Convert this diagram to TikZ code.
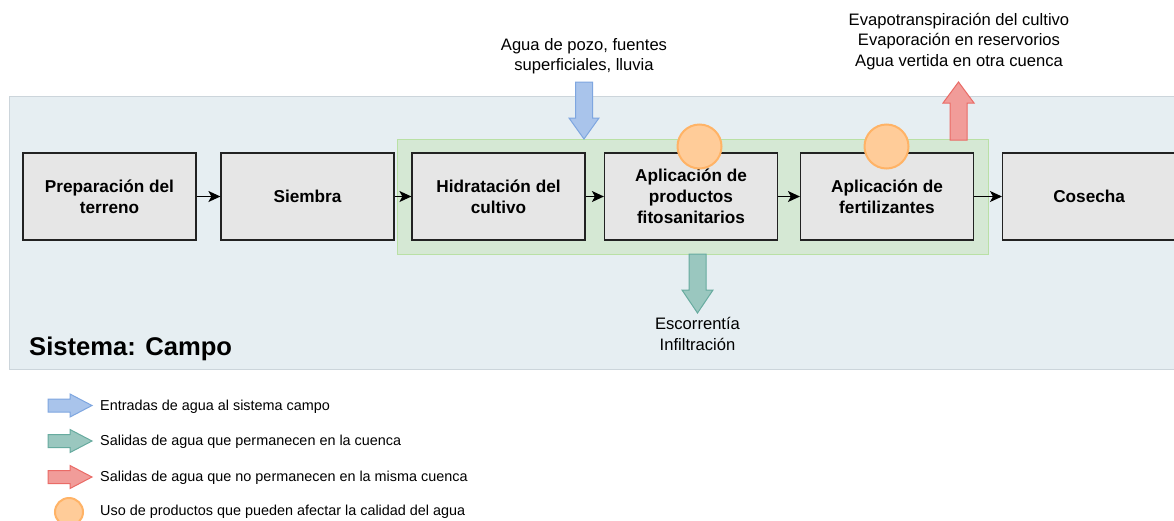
\documentclass[tikz,border=0pt]{standalone}
\usepackage{fontspec}
\setmainfont{Liberation Sans}
\usetikzlibrary{arrows.meta}
\definecolor{sysfill}{HTML}{E6EEF2}
\definecolor{sysdraw}{HTML}{CCD5DB}
\definecolor{grfill}{HTML}{D5E8D4}
\definecolor{grdraw}{HTML}{B9E0A5}
\definecolor{boxfill}{HTML}{E6E6E6}
\definecolor{boxdraw}{HTML}{222222}
\definecolor{orfill}{HTML}{FFCC99}
\definecolor{ordraw}{HTML}{FFB366}
\definecolor{bafill}{HTML}{A9C4EB}
\definecolor{badraw}{HTML}{7EA6E0}
\definecolor{gafill}{HTML}{9AC7BF}
\definecolor{gadraw}{HTML}{67AB9F}
\definecolor{rafill}{HTML}{F19C99}
\definecolor{radraw}{HTML}{EA6B66}
\tikzset{
  stepbox/.style={draw=boxdraw, fill=boxfill, line width=1.2pt, minimum width=173pt, minimum height=87pt, inner sep=0pt, align=center, font=\fontsize{17.2}{21}\selectfont\bfseries},
  flow/.style={-{Stealth[length=12pt,width=11pt,inset=3pt]}, line width=1.2pt, black},
  usecirc/.style={circle, draw=ordraw, fill=orfill, line width=2pt, minimum size=44pt, inner sep=0pt},
  lbl/.style={align=center, font=\fontsize{16.6}{20.5}\selectfont},
  leg/.style={anchor=west, font=\fontsize{14.4}{17}\selectfont, inner sep=0pt},
  blue arrow/.style={draw=badraw, fill=bafill, line width=1pt},
  green arrow/.style={draw=gadraw, fill=gafill, line width=1pt},
  red arrow/.style={draw=radraw, fill=rafill, line width=1pt},
}
\begin{document}
\begin{tikzpicture}[x=1pt,y=-1pt]
\useasboundingbox (0,0) rectangle (1174,520);
\fill[white] (0,0) rectangle (1174,520);
% system
\draw[draw=sysdraw, fill=sysfill, line width=1pt] (9,96) rectangle (1180,369);
\node[anchor=west, inner sep=0pt, font=\fontsize{25.6}{30}\selectfont\bfseries] (sys) at (29,349) {Sistema: Campo};
% green area
\draw[draw=grdraw, fill=grfill, line width=1pt] (397,139) rectangle (988,254);
% boxes
\node[stepbox] (b1) at (109.5,196.5) {Preparación del\\terreno};
\node[stepbox] (b2) at (307.5,196.5) {Siembra};
\node[stepbox] (b3) at (498.5,196.5) {Hidratación del\\cultivo};
\node[stepbox] (b4) at (691,196.5) {Aplicación de\\productos\\fitosanitarios};
\node[stepbox] (b5) at (887,196.5) {Aplicación de\\fertilizantes};
\node[stepbox, anchor=west] (b6) at (1002,196.5) {Cosecha};
\draw[flow] (b1) -- (b2);
\draw[flow] (b2) -- (b3);
\draw[flow] (b3) -- (b4);
\draw[flow] (b4) -- (b5);
\draw[flow] (b5) -- (b6);
% circles
\node[usecirc] (c1) at (699.5,146.5) {};
\node[usecirc] (c2) at (886.5,146.5) {};
% blue input arrow
\draw[blue arrow] (575.5,82) -- (592.5,82) -- (592.5,118) -- (599,118) -- (584,139) -- (569,118) -- (575.5,118) -- cycle;
\node[lbl] (inp) at (584,56) {Agua de pozo, fuentes\\superficiales, lluvia};
% red output arrow
\draw[red arrow] (950,140) -- (967,140) -- (967,103) -- (974,103) -- (958.5,82) -- (943,103) -- (950,103) -- cycle;
\node[lbl] (outr) at (959,41.5) {Evapotranspiración del cultivo\\Evaporación en reservorios\\Agua vertida en otra cuenca};
% green output arrow
\draw[green arrow] (689,254) -- (706,254) -- (706,290) -- (713,290) -- (697.5,313) -- (682,290) -- (689,290) -- cycle;
\node[lbl] (outg) at (697.5,334) {Escorrentía\\Infiltración};
% legend
\draw[blue arrow] (48,399) -- (70,399) -- (70,394) -- (92,405.5) -- (70,417) -- (70,412) -- (48,412) -- cycle;
\node[leg] (l1) at (100,407) {Entradas de agua al sistema campo};
\draw[green arrow] (48,434.5) -- (70,434.5) -- (70,429.5) -- (92,441) -- (70,452.5) -- (70,447.5) -- (48,447.5) -- cycle;
\node[leg] (l2) at (100,442) {Salidas de agua que permanecen en la cuenca};
\draw[red arrow] (48,470.5) -- (70,470.5) -- (70,465.5) -- (92,477) -- (70,488.5) -- (70,483.5) -- (48,483.5) -- cycle;
\node[leg] (l3) at (100,478) {Salidas de agua que no permanecen en la misma cuenca};
\node[usecirc, minimum size=28pt] (lc) at (69,512) {};
\node[leg] (l4) at (100,512) {Uso de productos que pueden afectar la calidad del agua};
\end{tikzpicture}
\end{document}
